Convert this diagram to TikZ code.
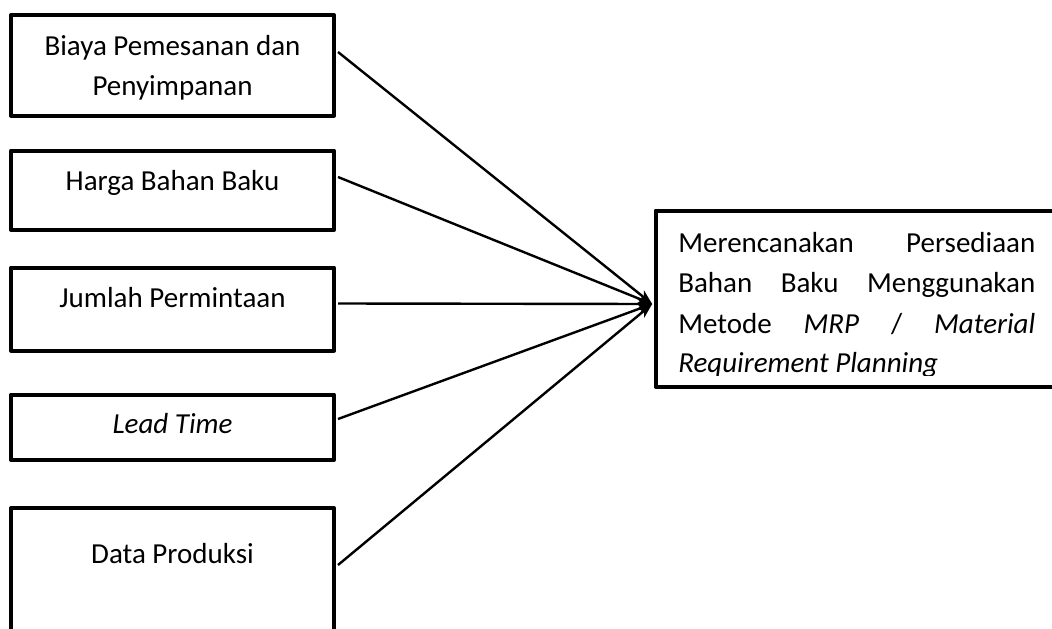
\documentclass[tikz,border=0pt]{standalone}
\usepackage{fontspec}
\setmainfont{Carlito}
\usetikzlibrary{arrows.meta}
\tikzset{
  box/.style={draw, line width=3pt, line join=round, inner sep=0pt, minimum width=242.25pt},
  lbl/.style={anchor=base, inner sep=0pt, font=\fontsize{21.75}{26}\selectfont},
  rlbl/.style={anchor=base west, inner sep=0pt, font=\fontsize{21.75}{26}\selectfont},
  conn/.style={line width=1.8pt, -{Stealth[length=11pt,width=8pt,inset=3pt]}}
}
\begin{document}
\begin{tikzpicture}[x=0.75pt,y=-0.75pt]
\useasboundingbox (0,0) rectangle (1052,628);
\clip (0,0) rectangle (1052,628);
% left boxes
\node[box, minimum height=75.375pt] (b1) at (172.5,65.25) {};
\node[box, minimum height=59.625pt] (b2) at (172.5,190.25) {};
\node[box, minimum height=62.25pt] (b3) at (172.5,309) {};
\node[box, minimum height=49.125pt] (b4) at (172.5,427.25) {};
\node[box, minimum height=144pt] (b5) at (172.5,604) {};
% right box
\node[box, minimum width=333.375pt, minimum height=132pt] (r) at (877.75,298.5) {};
% labels
\node[lbl] (t1a) at (172.5,55) {Biaya Pemesanan dan};
\node[lbl] (t1b) at (172.5,95) {Penyimpanan};
\node[lbl] (t2) at (172.5,190) {Harga Bahan Baku};
\node[lbl] (t3) at (172.5,307) {Jumlah Permintaan};
\node[lbl] (t4) at (172.5,433) {\itshape Lead Time};
\node[lbl] (t5) at (172.5,563) {Data Produksi};
\node[rlbl] (r1) at (678,252) {\hbox to 267.75pt{Merencanakan\hfill Persediaan}};
\node[rlbl] (r2) at (678,292) {\hbox to 267.75pt{Bahan\hfill Baku\hfill Menggunakan}};
\node[rlbl] (r3) at (678,333) {\hbox to 267.75pt{Metode\hfill \textit{MRP}\hfill /\hfill \textit{Material}}};
\begin{scope}
\clip (660,340) rectangle (1052,375.5);
\node[rlbl] (r4) at (678,372) {\textit{Requirement Planning}};
\end{scope}
% connectors
\coordinate (t) at (r.west |- 0,304);
\coordinate (s1) at (b1.east |- 0,52);
\coordinate (s2) at (b2.east |- 0,177);
\coordinate (s3) at (b3.east |- 0,303.5);
\coordinate (s4) at (b4.east |- 0,419);
\coordinate (s5) at (b5.east |- 0,565);
\draw[conn] ([xshift=1.5pt]s1) -- ([xshift=-1pt]t);
\draw[conn] ([xshift=1.5pt]s2) -- ([xshift=-1pt]t);
\draw[conn] ([xshift=1.5pt]s3) -- ([xshift=-1pt]t);
\draw[conn] ([xshift=1.5pt]s4) -- ([xshift=-1pt]t);
\draw[conn] ([xshift=1.5pt]s5) -- ([xshift=-1pt]t);
\end{tikzpicture}
\end{document}
